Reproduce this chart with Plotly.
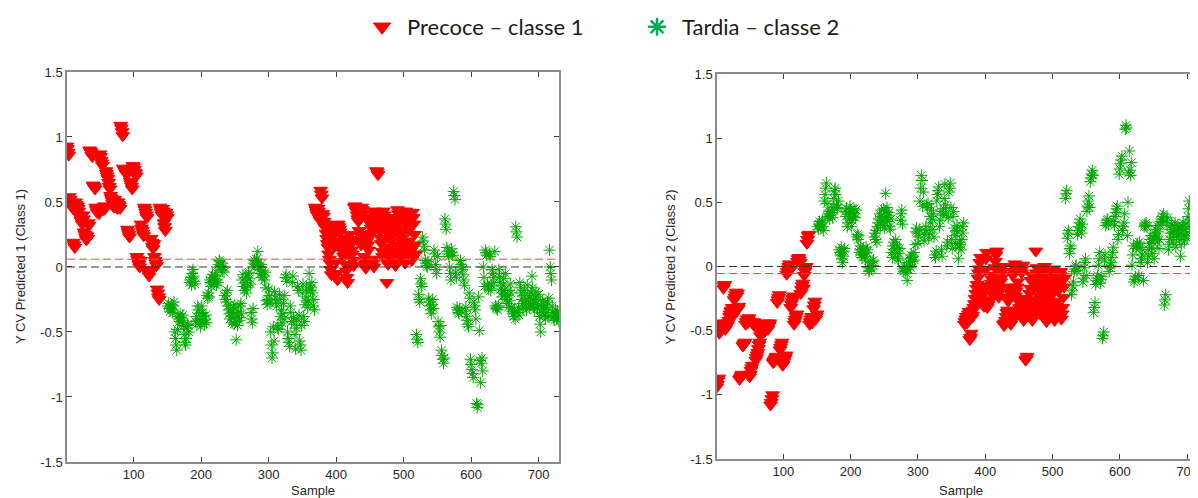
import plotly.graph_objects as go

# runs of consecutive samples belonging to the same class: (first, last, class)
class_runs = [(1, 150, 1), (151, 368, 2), (369, 518, 1), (519, 730, 2)]
class_names = {1: "Precoce – classe 1", 2: "Tardia – classe 2"}

# Y CV predicted for class 1 (left panel), samples 1..730
y_pred_1 = [
    0.93, 0.91, 0.88, 0.86, 0.54, 0.52, 0.50, 0.48, 0.47, 0.45,
    0.19, 0.17, 0.15, 0.50, 0.48, 0.46, 0.47, 0.45, 0.43, 0.40,
    0.38, 0.36, 0.35, 0.33, 0.40, 0.37, 0.27, 0.25, 0.23, 0.21,
    0.24, 0.22, 0.34, 0.32, 0.90, 0.89, 0.88, 0.86, 0.85, 0.63,
    0.62, 0.61, 0.60, 0.46, 0.44, 0.42, 0.45, 0.43, 0.41, 0.87,
    0.85, 0.82, 0.80, 0.78, 0.46, 0.44, 0.47, 0.45, 0.74, 0.72,
    0.70, 0.68, 0.65, 0.62, 0.60, 0.55, 0.53, 0.51, 0.49, 0.47,
    0.46, 0.52, 0.50, 0.48, 0.46, 0.45, 0.50, 0.48, 0.47, 0.45,
    1.09, 1.07, 1.04, 1.01, 0.76, 0.75, 0.74, 0.73, 0.72, 0.71,
    0.29, 0.27, 0.25, 0.23, 0.66, 0.64, 0.62, 0.60, 0.78, 0.77,
    0.75, 0.73, 0.72, 0.70, 0.08, 0.06, 0.04, 0.02, 0.00, 0.05,
    0.33, 0.30, 0.28, 0.26, 0.24, 0.46, 0.44, 0.42, 0.40, 0.38,
    -0.03, -0.05, -0.07, -0.04, -0.02, 0.22, 0.19, 0.16, 0.14, 0.18,
    0.08, 0.05, 0.03, 0.01, -0.17, -0.20, -0.23, -0.25, 0.46, 0.44,
    0.42, 0.40, 0.45, 0.43, 0.34, 0.31, 0.28, 0.42, 0.40, 0.38,
    -0.30, -0.28, -0.32, -0.34, -0.31, -0.29, -0.33, -0.35, -0.30, -0.27,
    -0.50, -0.55, -0.60, -0.64, -0.48, -0.38, -0.40, -0.42, -0.36, -0.39,
    -0.43, -0.41, -0.37, -0.45, -0.52, -0.58, -0.60, -0.55, -0.47, -0.44,
    -0.45, -0.50, -0.12, -0.10, -0.08, -0.14, -0.05, -0.02, -0.07, -0.11,
    -0.13, -0.42, -0.38, -0.44, -0.30, -0.33, -0.40, -0.36, -0.46, -0.43,
    -0.30, -0.35, -0.41, -0.38, -0.44, -0.40, -0.37, -0.43, -0.22, -0.24,
    -0.20, -0.23, -0.10, -0.12, -0.15, -0.08, -0.06, -0.11, -0.13, -0.09,
    -0.07, -0.04, -0.14, -0.10, -0.12, 0.02, 0.05, 0.04, 0.01, -0.02,
    0.03, -0.03, 0.00, -0.04, -0.22, -0.25, -0.20, -0.27, -0.18, -0.30,
    -0.33, -0.36, -0.40, -0.32, -0.38, -0.43, -0.35, -0.31, -0.44, -0.29,
    -0.42, -0.56, -0.37, -0.45, -0.34, -0.39, -0.41, -0.30, -0.28, -0.36,
    -0.10, -0.06, -0.15, -0.18, -0.12, -0.08, -0.20, -0.16, -0.14, -0.05,
    -0.04, -0.09, -0.13, -0.35, -0.40, -0.43, -0.32, 0.03, 0.05, 0.02,
    0.04, 0.06, 0.01, 0.12, 0.03, 0.00, -0.02, -0.05, 0.02, -0.08,
    -0.06, -0.03, -0.07, -0.10, -0.04, -0.16, -0.26, -0.29, -0.25, -0.17,
    -0.22, -0.28, -0.50, -0.60, -0.70, -0.66, -0.46, -0.57, -0.19, -0.24,
    -0.27, -0.30, -0.47, -0.45, -0.48, -0.21, -0.25, -0.38, -0.33, -0.43,
    -0.36, -0.28, -0.40, -0.22, -0.08, -0.06, -0.11, -0.50, -0.55, -0.58,
    -0.61, -0.30, -0.35, -0.42, -0.12, -0.07, -0.39, -0.44, -0.52, -0.63,
    -0.47, -0.40, -0.15, -0.18, -0.37, -0.57, -0.60, -0.64, -0.45, -0.20,
    -0.13, -0.38, -0.42, -0.29, -0.23, -0.17, -0.27, -0.31, -0.26, -0.05,
    -0.14, -0.18, -0.16, -0.12, -0.20, -0.30, -0.25, -0.33,
    0.46, 0.44, 0.42, 0.40, 0.45, 0.43, 0.38, 0.36, 0.59, 0.56,
    0.53, 0.41, 0.39, 0.35, 0.33, 0.30, 0.26, 0.22, 0.18, 0.15,
    0.10, 0.06, 0.03, -0.02, -0.06, 0.28, 0.24, 0.20, 0.16, 0.32,
    0.30, 0.04, -0.05, -0.10, 0.33, 0.31, 0.29, 0.27, 0.20, 0.17,
    0.14, 0.11, 0.08, 0.22, 0.19, 0.02, -0.03, -0.08, -0.12, 0.15,
    0.12, 0.25, 0.21, 0.18, 0.13, 0.10, 0.05, 0.01, 0.46, 0.47,
    0.45, 0.43, 0.40, 0.37, 0.35, 0.28, 0.25, 0.21, 0.17, 0.46,
    0.44, 0.41, 0.08, 0.05, 0.02, -0.01, 0.24, 0.20, 0.17, 0.13,
    0.38, 0.35, 0.33, 0.30, 0.26, 0.06, 0.03, 0.00, 0.43, 0.40,
    0.37, 0.74, 0.73, 0.71, 0.35, 0.31, 0.27, 0.22, 0.18, 0.12,
    0.08, 0.43, 0.40, 0.36, 0.32, 0.28, -0.12, 0.06, 0.02, 0.15,
    0.11, 0.24, 0.20, 0.38, 0.34, 0.30, 0.26, 0.09, 0.05, 0.01,
    0.17, 0.13, 0.44, 0.41, 0.38, 0.34, 0.29, 0.25, 0.22, 0.19,
    0.15, 0.11, 0.07, 0.03, 0.43, 0.40, 0.36, 0.32, 0.28, 0.20,
    0.16, 0.12, 0.08, 0.05, 0.42, 0.38, 0.33, 0.25, 0.17, 0.10,
    -0.52, -0.56, -0.58, -0.21, -0.25, -0.27, -0.09, -0.13, -0.15, 0.23,
    0.20, 0.16, 0.13, 0.05, 0.03, 0.01, 0.00, 0.04, -0.24, -0.27,
    -0.30, -0.33, -0.36, -0.29, -0.25, -0.32, 0.13, 0.10, 0.02, -0.02,
    -0.05, 0.08, -0.42, -0.46, -0.50, -0.54, -0.45, -0.64, -0.68, -0.71,
    -0.74, -0.70, 0.37, 0.33, 0.29, 0.15, 0.12, 0.10, 0.08, 0.00,
    -0.05, -0.10, 0.14, 0.11, 0.09, 0.58, 0.55, 0.52, -0.04, -0.08,
    -0.31, -0.33, -0.35, -0.36, -0.32, 0.05, 0.02, 0.00, -0.02, -0.06,
    -0.10, -0.14, -0.34, -0.31, -0.38, -0.41, -0.44, -0.46, -0.20, -0.24,
    -0.71, -0.75, -0.79, -0.82, -0.85, -0.27, -0.30, -0.33, -0.40, -1.05,
    -1.08, -1.06, -0.23, -0.49, -0.72, -0.89, -0.74, -0.70, -0.80, 0.00,
    -0.08, -0.15, 0.13, 0.11, 0.09, -0.13, -0.15, -0.17, 0.10, 0.08,
    -0.18, -0.14, -0.02, -0.05, -0.08, -0.12, 0.12, -0.30, -0.32, -0.31,
    -0.33, -0.30, -0.02, -0.07, -0.12, -0.17, -0.20, -0.23, -0.14, -0.09,
    -0.18, -0.21, -0.05, -0.25, -0.28, -0.22, -0.31, -0.18, -0.26, -0.13,
    -0.20, -0.31, -0.34, -0.36, -0.38, -0.33, -0.40, 0.31, 0.27, 0.23,
    -0.35, -0.31, -0.37, -0.12, -0.16, -0.20, -0.25, -0.28, -0.32, -0.22,
    -0.18, -0.26, -0.30, -0.33, -0.14, -0.22, -0.27, -0.31, -0.24, -0.29,
    -0.20, -0.07, -0.16, -0.26, -0.30, -0.33, -0.23, -0.19, -0.28, -0.32,
    -0.25, -0.21, -0.38, -0.44, -0.50, -0.30, -0.35, -0.26, -0.33, -0.37,
    -0.29, -0.40, -0.31, -0.35, -0.27, -0.38, -0.24, 0.13, 0.00, -0.05,
    -0.10, -0.30, -0.35, -0.39, -0.41, -0.37, -0.33, -0.36, -0.40, -0.34,
    -0.38, -0.42,
]

# Y CV predicted for class 2 (right panel), samples 1..730
y_pred_2 = [
    -0.94, -0.92, -0.89, -0.87, -0.52, -0.50, -0.48, -0.47, -0.46, -0.44,
    -0.17, -0.15, -0.14, -0.49, -0.47, -0.45, -0.46, -0.44, -0.42, -0.39,
    -0.37, -0.35, -0.34, -0.32, -0.39, -0.36, -0.26, -0.24, -0.22, -0.20,
    -0.23, -0.21, -0.33, -0.31, -0.88, -0.87, -0.86, -0.85, -0.84, -0.62,
    -0.61, -0.60, -0.59, -0.45, -0.43, -0.41, -0.44, -0.42, -0.40, -0.86,
    -0.84, -0.81, -0.79, -0.77, -0.45, -0.43, -0.46, -0.44, -0.73, -0.71,
    -0.69, -0.67, -0.64, -0.61, -0.59, -0.54, -0.52, -0.50, -0.48, -0.46,
    -0.45, -0.51, -0.49, -0.47, -0.45, -0.44, -0.49, -0.47, -0.46, -0.44,
    -1.08, -1.06, -1.03, -1.00, -0.75, -0.74, -0.73, -0.72, -0.71, -0.70,
    -0.28, -0.26, -0.24, -0.22, -0.65, -0.63, -0.61, -0.59, -0.77, -0.76,
    -0.74, -0.72, -0.71, -0.69, -0.06, -0.04, -0.02, 0.00, 0.02, -0.03,
    -0.32, -0.29, -0.27, -0.25, -0.23, -0.45, -0.43, -0.41, -0.39, -0.37,
    0.04, 0.06, 0.07, 0.05, 0.03, -0.21, -0.18, -0.15, -0.13, -0.17,
    -0.07, -0.04, -0.02, 0.00, 0.18, 0.21, 0.24, 0.25, -0.45, -0.43,
    -0.41, -0.39, -0.44, -0.42, -0.33, -0.30, -0.27, -0.41, -0.39, -0.37,
    0.31, 0.29, 0.33, 0.35, 0.32, 0.30, 0.34, 0.36, 0.31, 0.28,
    0.51, 0.56, 0.61, 0.65, 0.49, 0.39, 0.41, 0.43, 0.37, 0.40,
    0.44, 0.42, 0.38, 0.46, 0.53, 0.59, 0.61, 0.56, 0.48, 0.45,
    0.46, 0.51, 0.13, 0.11, 0.09, 0.15, 0.06, 0.03, 0.08, 0.12,
    0.14, 0.43, 0.39, 0.45, 0.31, 0.34, 0.41, 0.37, 0.47, 0.44,
    0.31, 0.36, 0.42, 0.39, 0.45, 0.41, 0.38, 0.44, 0.23, 0.25,
    0.21, 0.24, 0.11, 0.13, 0.16, 0.09, 0.07, 0.12, 0.14, 0.10,
    0.08, 0.05, 0.15, 0.11, 0.13, -0.01, -0.04, -0.03, 0.00, 0.03,
    -0.02, 0.04, 0.01, 0.05, 0.23, 0.26, 0.21, 0.28, 0.19, 0.31,
    0.34, 0.37, 0.41, 0.33, 0.39, 0.44, 0.36, 0.32, 0.45, 0.30,
    0.43, 0.57, 0.38, 0.46, 0.35, 0.40, 0.42, 0.31, 0.29, 0.37,
    0.11, 0.07, 0.16, 0.19, 0.13, 0.09, 0.21, 0.17, 0.15, 0.06,
    0.05, 0.10, 0.14, 0.36, 0.41, 0.44, 0.33, -0.02, -0.04, -0.01,
    -0.03, -0.05, 0.00, -0.11, -0.02, 0.01, 0.03, 0.06, -0.01, 0.09,
    0.07, 0.04, 0.08, 0.11, 0.05, 0.17, 0.27, 0.30, 0.26, 0.18,
    0.23, 0.29, 0.51, 0.61, 0.71, 0.67, 0.47, 0.58, 0.20, 0.25,
    0.28, 0.31, 0.48, 0.46, 0.49, 0.22, 0.26, 0.39, 0.34, 0.44,
    0.37, 0.29, 0.41, 0.23, 0.09, 0.07, 0.12, 0.51, 0.56, 0.59,
    0.62, 0.31, 0.36, 0.43, 0.13, 0.08, 0.40, 0.45, 0.53, 0.64,
    0.48, 0.41, 0.16, 0.19, 0.38, 0.58, 0.61, 0.65, 0.46, 0.21,
    0.14, 0.39, 0.43, 0.30, 0.24, 0.18, 0.28, 0.32, 0.27, 0.06,
    0.15, 0.19, 0.17, 0.13, 0.21, 0.31, 0.26, 0.34,
    -0.45, -0.43, -0.41, -0.39, -0.44, -0.42, -0.37, -0.35, -0.57, -0.55,
    -0.52, -0.40, -0.38, -0.34, -0.32, -0.29, -0.25, -0.21, -0.17, -0.14,
    -0.09, -0.05, -0.02, 0.03, 0.07, -0.27, -0.23, -0.19, -0.15, -0.31,
    -0.29, -0.03, 0.06, 0.11, -0.32, -0.30, -0.28, -0.26, -0.19, -0.16,
    -0.13, -0.10, -0.07, -0.21, -0.18, -0.01, 0.04, 0.09, 0.12, -0.14,
    -0.11, -0.24, -0.20, -0.17, -0.12, -0.09, -0.04, 0.00, -0.45, -0.46,
    -0.44, -0.42, -0.39, -0.36, -0.34, -0.27, -0.24, -0.20, -0.16, -0.45,
    -0.43, -0.40, -0.07, -0.04, -0.01, 0.02, -0.23, -0.19, -0.16, -0.12,
    -0.37, -0.34, -0.32, -0.29, -0.25, -0.05, -0.02, 0.01, -0.42, -0.39,
    -0.36, -0.73, -0.72, -0.70, -0.34, -0.30, -0.26, -0.21, -0.17, -0.11,
    -0.07, -0.42, -0.39, -0.35, -0.31, -0.27, 0.12, -0.05, -0.01, -0.14,
    -0.10, -0.23, -0.19, -0.37, -0.33, -0.29, -0.25, -0.08, -0.04, 0.00,
    -0.16, -0.12, -0.43, -0.40, -0.37, -0.33, -0.28, -0.24, -0.21, -0.18,
    -0.14, -0.10, -0.06, -0.02, -0.42, -0.39, -0.35, -0.31, -0.27, -0.19,
    -0.15, -0.11, -0.07, -0.04, -0.41, -0.37, -0.32, -0.24, -0.16, -0.09,
    0.53, 0.57, 0.59, 0.22, 0.26, 0.28, 0.10, 0.14, 0.16, -0.22,
    -0.19, -0.15, -0.12, -0.04, -0.02, 0.00, 0.01, -0.03, 0.25, 0.28,
    0.31, 0.34, 0.37, 0.30, 0.26, 0.33, -0.12, -0.09, -0.01, 0.03,
    0.06, -0.07, 0.43, 0.47, 0.51, 0.55, 0.46, 0.66, 0.69, 0.72,
    0.75, 0.71, -0.36, -0.32, -0.28, -0.14, -0.11, -0.09, -0.07, 0.01,
    0.06, 0.11, -0.13, -0.10, -0.08, -0.56, -0.54, -0.51, 0.05, 0.09,
    0.32, 0.34, 0.36, 0.37, 0.33, -0.04, -0.01, 0.01, 0.03, 0.07,
    0.11, 0.15, 0.35, 0.32, 0.39, 0.42, 0.45, 0.47, 0.21, 0.25,
    0.72, 0.76, 0.80, 0.83, 0.86, 0.28, 0.31, 0.34, 0.41, 1.07,
    1.10, 1.08, 0.24, 0.50, 0.73, 0.90, 0.75, 0.71, 0.81, 0.01,
    0.09, 0.16, -0.12, -0.10, -0.08, 0.14, 0.16, 0.18, -0.09, -0.07,
    0.19, 0.15, 0.03, 0.06, 0.09, 0.13, -0.11, 0.31, 0.33, 0.32,
    0.34, 0.31, 0.03, 0.08, 0.13, 0.18, 0.21, 0.24, 0.15, 0.10,
    0.19, 0.22, 0.06, 0.26, 0.29, 0.23, 0.32, 0.19, 0.27, 0.14,
    0.21, 0.32, 0.35, 0.37, 0.39, 0.34, 0.41, -0.30, -0.26, -0.22,
    0.36, 0.32, 0.38, 0.13, 0.17, 0.21, 0.26, 0.29, 0.33, 0.23,
    0.19, 0.27, 0.31, 0.34, 0.15, 0.23, 0.28, 0.32, 0.25, 0.30,
    0.21, 0.08, 0.17, 0.27, 0.31, 0.34, 0.24, 0.20, 0.29, 0.33,
    0.26, 0.22, 0.39, 0.45, 0.51, 0.31, 0.36, 0.27, 0.34, 0.38,
    0.30, 0.41, 0.32, 0.36, 0.28, 0.39, 0.25, -0.12, 0.01, 0.06,
    0.11, 0.31, 0.36, 0.40, 0.42, 0.38, 0.34, 0.37, 0.41, 0.35,
    0.39, 0.43,
]

# class thresholds (red dashed lines)
threshold_1 = 0.06
threshold_2 = -0.055

x_ticks = [100, 200, 300, 400, 500, 600, 700]
y_ticks = [-1.5, -1, -0.5, 0, 0.5, 1, 1.5]
y_tick_text = ["-1.5", "-1", "-0.5", "0", "0.5", "1", "1.5"]

RED = "#ff0000"
GREEN = "#00aa00"
AXIS_FONT = dict(family="Liberation Sans, Arial", size=13, color="#262626")

# the page body adds an 8 px margin, so the figure is the visible window minus that
FIG_W, FIG_H = 1190, 490

samples = []
classes = []
for first, last, cls in class_runs:
    for s in range(first, last + 1):
        samples.append(s)
        classes.append(cls)


def split_by_class(values, cls):
    xs = [s for s, c in zip(samples, classes) if c == cls]
    ys = [v for v, c in zip(values, classes) if c == cls]
    return xs, ys


def add_panel(fig, values, xref, yref):
    xs, ys = split_by_class(values, 1)
    fig.add_trace(
        go.Scatter(
            x=xs, y=ys, mode="markers", xaxis=xref, yaxis=yref, showlegend=False,
            marker=dict(symbol="triangle-down", size=12, color=RED,
                        line=dict(color=RED, width=1)),
        )
    )
    xs, ys = split_by_class(values, 2)
    fig.add_trace(
        go.Scatter(
            x=xs, y=ys, mode="markers", xaxis=xref, yaxis=yref, showlegend=False,
            marker=dict(symbol="asterisk-open", size=10, color=GREEN,
                        line=dict(color=GREEN, width=1)),
        )
    )


fig = go.Figure()
add_panel(fig, y_pred_1, "x", "y")
add_panel(fig, y_pred_2, "x2", "y2")

# legend-only entries
fig.add_trace(go.Scatter(
    x=[None], y=[None], mode="markers", name=class_names[1],
    marker=dict(symbol="triangle-down", size=15, color=RED, line=dict(color=RED, width=1)),
))
fig.add_trace(go.Scatter(
    x=[None], y=[None], mode="markers", name=class_names[2],
    marker=dict(symbol="asterisk-open", size=15, color="#00b050",
                line=dict(color="#00b050", width=2.5)),
))

# dashed reference lines
for xr, yr, thr in [("x", "y", threshold_1), ("x2", "y2", threshold_2)]:
    fig.add_shape(type="line", xref=f"{xr} domain", yref=yr, x0=0, x1=1, y0=0, y1=0,
                  line=dict(color="#333333", width=1, dash="8px,4px"))
    fig.add_shape(type="line", xref=f"{xr} domain", yref=yr, x0=0, x1=1, y0=thr, y1=thr,
                  line=dict(color="#ff4040", width=1, dash="8px,4px"))

xaxis_common = dict(
    tickvals=x_ticks, ticks="inside", ticklen=5, tickcolor="#404040",
    showline=True, linecolor="#8c8c8c", linewidth=1.5, showgrid=False, zeroline=False,
    tickfont=AXIS_FONT, mirror="ticks", automargin=False, ticklabeloverflow="allow",
)
yaxis_common = dict(
    range=[-1.5, 1.5], tickvals=y_ticks, ticktext=y_tick_text, ticks="inside", ticklen=5,
    tickcolor="#404040", showline=True, linecolor="#8c8c8c", linewidth=1.5,
    showgrid=False, zeroline=False, tickfont=AXIS_FONT, automargin=False,
)

# axis titles as annotations so they never push the margins
axis_titles = [
    ("Sample", 0.2563, 0.0163, 0),
    ("Sample", 0.8008, 0.0163, 0),
    ("Y CV Predicted 1 (Class 1)", 0.0101, 0.4714, -90),
    ("Y CV Predicted 2 (Class 2)", 0.5571, 0.4724, -90),
]
for text, ax_x, ax_y, angle in axis_titles:
    fig.add_annotation(text=text, x=ax_x, y=ax_y, xref="paper", yref="paper",
                       xanchor="center", yanchor="middle", showarrow=False,
                       textangle=angle, font=AXIS_FONT)

fig.update_layout(
    width=FIG_W, height=FIG_H,
    margin=dict(l=0, r=0, t=0, b=0, autoexpand=False),
    paper_bgcolor="white", plot_bgcolor="white",
    xaxis=dict(xaxis_common, domain=[0.0496, 0.4630], range=[1.5, 730], anchor="y"),
    yaxis=dict(yaxis_common, domain=[0.0735, 0.8694], anchor="x", mirror="ticks"),
    xaxis2=dict(xaxis_common, domain=[0.5958, 1.0], range=[1.5, 716], anchor="y2"),
    yaxis2=dict(yaxis_common, domain=[0.0796, 0.8653], anchor="x2", mirror=False),
    legend=dict(
        orientation="h", x=0.2933, xanchor="left", y=0.9612, yanchor="middle",
        font=dict(family="Lato", size=22, color="#1a1a1a"),
        itemwidth=40, entrywidth=220, entrywidthmode="pixels", bgcolor="rgba(0,0,0,0)",
    ),
)

fig.write_html("out.html")
